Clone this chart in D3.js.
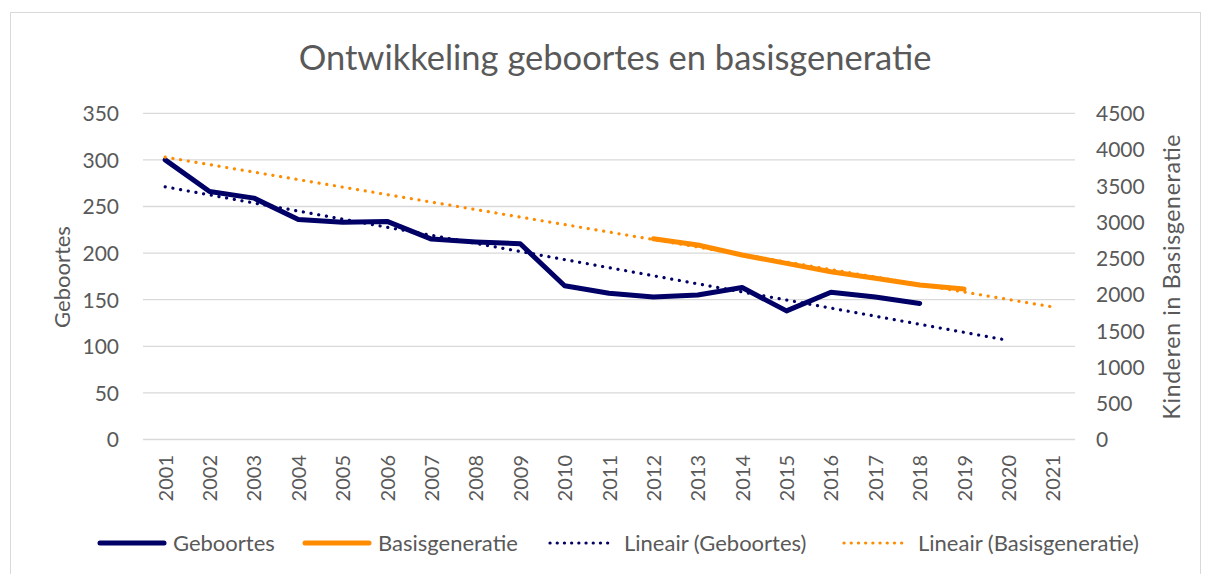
<!DOCTYPE html>
<html lang="nl">
<head>
<meta charset="UTF-8">
<title>Ontwikkeling geboortes en basisgeneratie</title>
<script src="https://cdn.jsdelivr.net/npm/d3@7"></script>
<style>
  body { margin: 0; background: #fff; }
  text { font-family: Lato, "Open Sans", sans-serif; fill: #595959; }
</style>
</head>
<body>
<script>
// gegevens
var years = d3.range(2001, 2022);
var geboortes = [300, 266, 259, 236, 233, 234, 215, 212, 210, 165, 157, 153, 155, 163, 138, 158, 153, 146];
var geboortesYears = d3.range(2001, 2019);
var basis = [2768, 2683, 2545, 2430, 2315, 2224, 2131, 2076];
var basisYears = d3.range(2012, 2020);
var leftTicks = [0, 50, 100, 150, 200, 250, 300, 350];
var rightTicks = [0, 500, 1000, 1500, 2000, 2500, 3000, 3500, 4000, 4500];
var trendGebYears = [2001, 2020];   // trendlijn met 2 perioden vooruit
var trendBasisYears = [2001, 2021]; // trendlijn 11 terug, 2 vooruit

var width = 1208, height = 574;
var navy = "#000066", orange = "#ff8c00";

var svg = d3.select("body").append("svg")
    .attr("width", width).attr("height", height);

// rand om de grafiek
svg.append("rect")
    .attr("x", 10.5).attr("y", 12.5).attr("width", 1190).attr("height", 570)
    .attr("fill", "none").attr("stroke", "#d9d9d9");

var x = d3.scalePoint().domain(years).range([143, 1075]).padding(0.5);
var yL = d3.scaleLinear().domain([0, 350]).range([439.5, 113.3]);
var yR = d3.scaleLinear().domain([0, 4500]).range([439.5, 113.3]);

// titel
svg.append("text")
    .attr("x", 615).attr("y", 70)
    .attr("text-anchor", "middle").attr("font-size", 34.5)
    .text("Ontwikkeling geboortes en basisgeneratie");

// rasterlijnen
svg.append("g").selectAll("line").data(leftTicks).enter().append("line")
    .attr("x1", 143).attr("x2", 1075)
    .attr("y1", function(d){ return yL(d); })
    .attr("y2", function(d){ return yL(d); })
    .attr("stroke", "#d9d9d9").attr("stroke-width", 1.3);

// assen
var axL = svg.append("g").attr("transform", "translate(119,0)")
    .call(d3.axisLeft(yL).tickValues(leftTicks).tickSize(0).tickPadding(0));
var axR = svg.append("g").attr("transform", "translate(1096,0)")
    .call(d3.axisRight(yR).tickValues(rightTicks).tickFormat(d3.format("d")).tickSize(0).tickPadding(0));
var axX = svg.append("g").attr("transform", "translate(0,455)")
    .call(d3.axisBottom(x).tickSize(0).tickPadding(0));

[axL, axR, axX].forEach(function(a){
    a.select(".domain").remove();
    a.selectAll("text").attr("font-size", 21).style("fill", "#595959")
        .style("font-family", "Lato, 'Open Sans', sans-serif");
});
axL.selectAll("text").attr("dy", "0.35em");
axR.selectAll("text").attr("dy", "0.35em");
axX.selectAll("text")
    .attr("font-size", 20)
    .attr("transform", "rotate(-90)")
    .attr("text-anchor", "end")
    .attr("x", 0).attr("y", 0).attr("dy", "0.35em")
    .attr("dx", 0);

// astitels
svg.append("text")
    .attr("transform", "translate(70,277) rotate(-90)")
    .attr("text-anchor", "middle").attr("font-size", 22)
    .text("Geboortes");
svg.append("text")
    .attr("transform", "translate(1180,277) rotate(-90)")
    .attr("text-anchor", "middle").attr("font-size", 23)
    .attr("textLength", 285).attr("lengthAdjust", "spacing")
    .text("Kinderen in Basisgeneratie");

// lineaire trend (kleinste kwadraten)
function fit(xs, ys) {
    var mx = d3.mean(xs), my = d3.mean(ys);
    var num = d3.sum(xs, function(v, i){ return (v - mx) * (ys[i] - my); });
    var den = d3.sum(xs, function(v){ return (v - mx) * (v - mx); });
    var b = num / den;
    return function(v){ return my + b * (v - mx); };
}
var fGeb = fit(geboortesYears, geboortes);
var fBasis = fit(basisYears, basis);

var line = d3.line();

function trend(f, span, yScale, color) {
    svg.append("path")
        .attr("d", line(span.map(function(v){ return [x(v), yScale(f(v))]; })))
        .attr("fill", "none").attr("stroke", color)
        .attr("stroke-width", 3.2).attr("stroke-linecap", "round")
        .attr("stroke-dasharray", "0.1 7.7");
}

// datalijnen
svg.append("path")
    .attr("d", line(geboortesYears.map(function(v, i){ return [x(v), yL(geboortes[i])]; })))
    .attr("fill", "none").attr("stroke", navy).attr("stroke-width", 5)
    .attr("stroke-linejoin", "round").attr("stroke-linecap", "round");
svg.append("path")
    .attr("d", line(basisYears.map(function(v, i){ return [x(v), yR(basis[i])]; })))
    .attr("fill", "none").attr("stroke", orange).attr("stroke-width", 5)
    .attr("stroke-linejoin", "round").attr("stroke-linecap", "round");

trend(fGeb, trendGebYears, yL, navy);
trend(fBasis, trendBasisYears, yR, orange);

// legenda
var legend = [
    {name: "Geboortes", color: navy, dotted: false, x: 98},
    {name: "Basisgeneratie", color: orange, dotted: false, x: 303},
    {name: "Lineair (Geboortes)", color: navy, dotted: true, x: 549},
    {name: "Lineair (Basisgeneratie)", color: orange, dotted: true, x: 843}
];
var lg = svg.append("g").selectAll("g").data(legend).enter().append("g")
    .attr("transform", function(d){ return "translate(" + d.x + ",543)"; });
lg.append("line")
    .attr("x1", function(d){ return d.dotted ? 1 : 2; })
    .attr("x2", function(d){ return d.dotted ? 65 : 66; })
    .attr("stroke", function(d){ return d.color; })
    .attr("stroke-width", function(d){ return d.dotted ? 3.2 : 5; })
    .attr("stroke-linecap", "round")
    .attr("stroke-dasharray", function(d){ return d.dotted ? "0.1 7.1" : null; });
lg.append("text")
    .attr("x", 75).attr("dy", "0.35em").attr("font-size", 22)
    .text(function(d){ return d.name; });
</script>
</body>
</html>
